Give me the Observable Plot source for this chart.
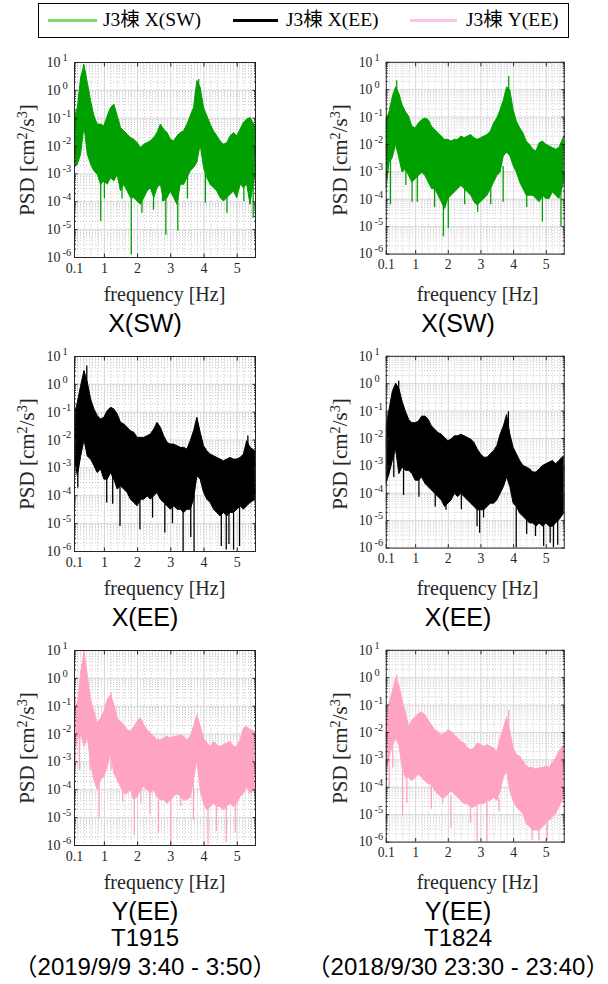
<!DOCTYPE html>
<html><head><meta charset="utf-8">
<script src="https://cdn.jsdelivr.net/npm/d3@7"></script>
<script src="https://cdn.jsdelivr.net/npm/@observablehq/plot@0.6"></script>
<style>
body{margin:0;background:#fff;}
#root{position:relative;width:608px;height:984px;overflow:hidden;background:#fff;}
.abs{position:absolute;white-space:nowrap;transform:translate(-50%,-50%);line-height:1;}
.serif{font-family:"Liberation Serif","DejaVu Serif",serif;color:#262626;}
.sans{font-family:"Liberation Sans",Arial,"Noto Sans CJK JP",sans-serif;color:#000;}
.svgwrap{position:absolute;}
sup{font-size:0.68em;vertical-align:0;position:relative;top:-0.5em;}
</style></head><body><div id="root"></div>
<script>
// ---- data (log10 of PSD [cm^2/s^3]) ----
const freqs = [0.1,0.2,0.3,0.4,0.5,0.6,0.7,0.8,0.9,1.0,
  1.1,1.2,1.3,1.4,1.5,1.6,1.7,1.8,1.9,2.0,
  2.1,2.2,2.3,2.4,2.5,2.6,2.7,2.8,2.9,3.0,
  3.1,3.2,3.3,3.4,3.5,3.6,3.7,3.8,3.9,4.0,
  4.1,4.2,4.3,4.4,4.5,4.6,4.7,4.8,4.9,5.0,
  5.1,5.2,5.3,5.4,5.55];

const legendLabels = ["J3棟 X(SW)", "J3棟 X(EE)", "J3棟 Y(EE)"];
const panelTitles = ["X(SW)", "X(EE)", "Y(EE)"];
const eventNames = ["T1915", "T1824"];
const eventPeriods = ["（2019/9/9 3:40 - 3:50）", "（2018/9/30 23:30 - 23:40）"];

const xTickVals = [0.1, 1, 2, 3, 4, 5];
const xMajorGrid = [1, 2, 3, 4, 5];
const xMinorGrid = [0.2,0.4,0.6,0.8,1.2,1.4,1.6,1.8,2.2,2.4,2.6,2.8,3.2,3.4,3.6,3.8,4.2,4.4,4.6,4.8,5.2,5.4];
const decades = [-6, -5, -4, -3, -2, -1, 0, 1];
const minorMantissas = [2, 3, 4, 5, 6, 7, 8, 9];

// T1915 X(SW)
const t1915_xsw_hi = [-1.0,-0.63,0.45,0.9,0.27,-0.39,-0.93,-1.23,-1.23,-1.29,
  -0.93,-0.63,-0.51,-0.93,-1.35,-1.47,-1.59,-1.71,-1.77,-1.89,
  -2.07,-1.95,-1.89,-1.83,-1.71,-1.53,-1.23,-1.41,-1.53,-1.77,
  -1.83,-1.65,-1.53,-1.47,-1.23,-0.93,-0.63,0.33,0.09,-0.63,
  -0.93,-1.23,-1.47,-1.65,-1.83,-1.95,-1.89,-1.65,-1.53,-1.65,
  -1.41,-1.17,-1.05,-0.99,-1.3];
const t1915_xsw_lo = [-2.79,-2.67,-2.3,-1.3,-2.3,-2.67,-2.91,-3.03,-3.39,-3.27,
  -3.39,-3.15,-3.27,-3.03,-3.63,-3.39,-3.63,-3.87,-3.87,-3.99,
  -4.11,-3.87,-3.63,-3.51,-3.87,-3.51,-3.39,-3.99,-3.87,-3.63,
  -3.87,-4.11,-3.39,-3.39,-3.15,-2.91,-2.79,-2.6,-1.95,-2.79,
  -3.15,-3.39,-3.51,-3.63,-3.87,-3.99,-3.87,-3.75,-3.63,-3.87,
  -3.39,-3.51,-3.39,-4.11,-2.91];
const t1915_xsw_spikes = [[0.37,-1.2,0.92],[0.89,-4.71,-3.0],[1.0,-3.9,-3.0],[1.53,-3.9,-3.0],[1.81,-5.91,-3.5],
  [2.13,-4.41,-3.5],[2.48,-4.3,-3.4],[2.75,-4.0,-3.0],[2.85,-5.2,-3.5],[3.21,-5.05,-3.5],[3.5,-3.9,-3.0],
  [3.84,-1.8,0.39],[4.04,-4.05,-2.5],[4.69,-4.41,-3.5],[5.2,-4.0,-3.3],[5.48,-4.6,-3.0]];

// T1824 X(SW)
const t1824_xsw_hi = [-1.15,-0.81,-0.27,0.09,-0.15,-0.57,-0.81,-0.99,-1.35,-1.41,
  -1.23,-1.11,-1.05,-1.11,-1.35,-1.47,-1.59,-1.71,-1.83,-1.83,
  -1.89,-1.83,-1.83,-1.71,-1.77,-1.71,-1.65,-1.77,-1.83,-1.77,
  -1.71,-1.65,-1.53,-1.23,-1.05,-0.75,-0.39,0.09,-0.03,-0.75,
  -1.17,-1.41,-1.59,-1.89,-2.01,-2.19,-2.25,-1.95,-1.89,-2.01,
  -2.07,-2.13,-2.19,-2.13,-1.71];
const t1824_xsw_lo = [-3.63,-2.67,-2.5,-2.0,-2.5,-3.03,-2.91,-3.15,-3.39,-3.27,
  -3.15,-3.03,-3.15,-3.39,-3.63,-3.63,-3.87,-4.11,-4.35,-3.99,
  -3.87,-3.75,-3.63,-3.51,-3.63,-3.75,-3.87,-4.11,-4.23,-4.11,
  -3.99,-3.87,-3.63,-3.39,-3.15,-3.03,-2.43,-2.3,-2.43,-2.79,
  -3.03,-3.39,-3.63,-3.87,-3.87,-3.87,-3.99,-4.11,-3.87,-3.99,
  -3.99,-3.75,-3.87,-3.99,-3.39];
const t1824_xsw_spikes = [[0.23,-4.2,-2.5],[0.42,-1.0,0.33],[0.7,-3.5,-2.7],[0.89,-4.11,-3.0],[1.05,-4.11,-3.0],
  [1.58,-4.3,-3.5],[1.85,-5.37,-3.8],[2.0,-5.07,-3.8],[2.5,-4.2,-3.4],[2.9,-4.47,-3.8],[3.3,-4.2,-3.4],
  [3.68,-4.11,-2.8],[3.85,-1.5,0.48],[4.4,-4.3,-3.5],[4.88,-4.83,-3.6],[5.45,-5.01,-3.5]];

// T1915 X(EE)
const t1915_xee_hi = [-1.14,-0.66,-0.06,0.48,0.06,-0.54,-0.9,-1.14,-1.26,-1.2,
  -0.96,-0.84,-0.9,-1.08,-1.38,-1.44,-1.56,-1.68,-1.74,-1.92,
  -1.92,-1.92,-1.86,-1.8,-1.62,-1.38,-1.56,-1.86,-2.1,-2.16,
  -2.16,-2.22,-2.28,-2.28,-2.34,-2.04,-1.68,-1.2,-1.74,-2.22,
  -2.4,-2.52,-2.58,-2.64,-2.7,-2.76,-2.7,-2.64,-2.7,-2.7,
  -2.64,-2.52,-2.04,-2.28,-2.4];
const t1915_xee_lo = [-2.58,-3.3,-2.6,-2.0,-2.6,-2.7,-2.94,-3.18,-3.06,-3.42,
  -3.42,-3.18,-3.42,-3.78,-3.66,-3.78,-3.9,-4.14,-4.26,-4.38,
  -4.14,-4.14,-4.02,-4.14,-4.02,-3.9,-4.14,-4.26,-4.38,-4.5,
  -4.38,-4.5,-4.5,-4.62,-4.5,-4.5,-4.14,-3.3,-3.42,-3.9,
  -4.14,-4.26,-4.5,-4.62,-4.74,-4.62,-4.74,-4.62,-4.62,-4.5,
  -4.38,-4.5,-4.38,-4.26,-4.14];
const t1915_xee_spikes = [[0.2,-3.72,-2.5],[0.47,-1.0,0.66],[1.07,-4.26,-3.2],[1.25,-4.3,-3.2],[1.47,-5.1,-3.5],
  [2.07,-5.22,-4.0],[2.45,-4.8,-4.0],[2.82,-5.34,-4.0],[3.05,-5.0,-4.3],[3.37,-6.0,-4.3],[3.6,-5.5,-4.3],
  [3.7,-6.0,-4.0],[4.52,-5.82,-4.4],[4.67,-5.95,-4.4],[4.75,-5.75,-4.5],[4.89,-5.95,-4.4],[5.07,-5.82,-4.4],
  [5.32,-3.0,-1.85]];

// T1824 X(EE)
const t1824_xee_hi = [-1.62,-0.96,-0.3,0.0,-0.18,-0.66,-1.02,-1.32,-1.44,-1.44,
  -1.38,-1.2,-1.2,-1.32,-1.56,-1.68,-1.8,-1.86,-1.98,-2.1,
  -2.04,-1.92,-1.92,-1.86,-1.92,-1.98,-2.04,-2.16,-2.4,-2.58,
  -2.7,-2.7,-2.58,-2.46,-2.28,-1.86,-1.56,-1.14,-1.86,-2.34,
  -2.58,-2.82,-3.0,-3.06,-3.12,-3.24,-3.24,-3.12,-3.0,-2.94,
  -2.88,-2.82,-2.94,-2.82,-2.64];
const t1824_xee_lo = [-3.66,-3.3,-2.82,-2.4,-3.3,-3.06,-3.18,-3.18,-3.3,-3.54,
  -3.54,-3.42,-3.66,-3.78,-3.9,-4.02,-4.14,-4.26,-4.5,-4.38,
  -4.26,-4.02,-4.14,-4.02,-4.14,-4.26,-4.38,-4.5,-4.62,-4.62,
  -4.62,-4.5,-4.38,-4.38,-4.26,-4.02,-3.78,-3.42,-3.78,-4.38,
  -4.5,-4.74,-4.86,-4.98,-5.1,-5.1,-5.22,-5.1,-5.22,-5.1,
  -5.22,-5.22,-5.1,-4.98,-4.74];
const t1824_xee_spikes = [[0.33,-3.42,-2.5],[0.48,-0.5,0.09],[0.63,-4.08,-3.0],[1.1,-4.14,-3.3],[1.6,-4.5,-3.8],
  [1.93,-4.62,-4.3],[2.4,-4.6,-3.9],[2.88,-5.22,-4.3],[2.96,-5.46,-4.4],[3.08,-4.9,-4.4],[3.84,-1.6,-1.02],
  [4.08,-6.0,-4.2],[4.4,-5.5,-4.8],[4.67,-5.58,-5.0],[4.92,-5.94,-5.0],[5.12,-5.82,-5.0],[5.22,-6.0,-5.0],
  [5.35,-5.9,-5.0]];

// T1915 Y(EE)
const t1915_yee_hi = [-0.8,-1.0,0.2,0.95,0.1,-0.78,-1.2,-1.62,-1.44,-1.2,
  -0.78,-0.6,-0.96,-1.44,-1.56,-1.68,-1.86,-1.92,-1.74,-1.56,
  -1.44,-1.68,-1.86,-1.98,-2.1,-2.22,-2.22,-2.16,-2.1,-2.16,
  -2.1,-2.1,-2.04,-2.1,-2.22,-2.1,-1.74,-1.32,-1.74,-2.16,
  -2.34,-2.46,-2.28,-2.4,-2.46,-2.4,-2.34,-2.28,-2.46,-2.46,
  -2.22,-1.8,-1.74,-1.86,-1.92];
const t1915_yee_lo = [-2.82,-2.2,-1.98,-2.46,-2.1,-3.06,-3.66,-4.02,-3.66,-3.54,
  -3.18,-2.7,-3.42,-3.66,-3.9,-4.14,-4.14,-4.02,-4.38,-4.26,
  -4.02,-3.9,-4.02,-4.14,-4.02,-4.26,-4.38,-4.38,-4.5,-4.38,
  -4.26,-4.14,-4.26,-4.38,-4.38,-4.26,-3.66,-2.94,-4.02,-4.5,
  -4.74,-4.62,-4.5,-4.62,-4.62,-4.74,-4.62,-4.5,-4.62,-4.5,
  -4.26,-4.14,-3.9,-4.14,-4.02];
const t1915_yee_spikes = [[0.13,-3.0,-0.68],[0.25,-3.3,-1.5],[0.38,-1.0,1.0],[0.57,-3.3,-2.0],[0.84,-5.02,-3.5],
  [1.2,-3.3,-0.5],[1.55,-4.45,-3.6],[1.9,-5.64,-4.0],[2.1,-4.5,-3.8],[2.37,-4.9,-3.8],[2.63,-5.55,-4.0],
  [3.0,-5.98,-4.2],[3.3,-4.6,-4.0],[3.68,-5.1,-3.6],[4.12,-5.98,-4.4],[4.37,-5.5,-4.2],[4.67,-5.9,-4.4],
  [4.94,-5.55,-4.2]];

// T1824 Y(EE)
const t1824_yee_hi = [-1.42,-0.94,-0.52,-0.04,-0.28,-0.84,-1.26,-1.8,-1.56,-1.44,
  -1.32,-1.26,-1.38,-1.56,-1.74,-1.92,-1.98,-2.1,-2.04,-1.92,
  -1.98,-2.1,-2.22,-2.34,-2.4,-2.58,-2.64,-2.58,-2.4,-2.46,
  -2.52,-2.46,-2.52,-2.58,-2.7,-2.22,-1.86,-1.44,-1.98,-2.58,
  -2.82,-2.88,-3.06,-3.24,-3.3,-3.3,-3.36,-3.3,-3.3,-3.24,
  -3.3,-3.12,-2.94,-2.7,-2.46];
const t1824_yee_lo = [-3.42,-2.94,-2.46,-2.22,-2.46,-3.3,-3.66,-3.66,-3.78,-3.66,
  -3.54,-3.66,-3.78,-3.9,-3.9,-4.14,-4.26,-4.38,-4.38,-4.26,
  -4.14,-4.26,-4.38,-4.5,-4.62,-4.62,-4.74,-4.74,-4.62,-4.62,
  -4.62,-4.5,-4.5,-4.38,-4.5,-4.14,-3.66,-3.42,-4.14,-4.5,
  -4.74,-4.86,-4.98,-5.34,-5.46,-5.58,-5.58,-5.58,-5.46,-5.34,
  -5.22,-5.1,-4.98,-4.74,-4.38];
const t1824_yee_spikes = [[0.19,-4.05,-3.0],[0.3,-3.3,-2.4],[0.42,-1.0,0.09],[0.6,-5.02,-3.4],[0.73,-4.6,-3.6],
  [1.48,-4.8,-3.9],[1.83,-4.6,-4.2],[2.08,-5.5,-4.3],[2.68,-5.3,-4.6],[2.88,-6.0,-4.6],[3.18,-6.0,-4.5],
  [3.55,-4.9,-4.4],[3.85,-3.5,-1.2],[4.56,-5.95,-5.3],[4.77,-5.95,-5.4],[5.03,-5.95,-5.3]];

const colors = ["#00a000", "#000000", "#ffa3c4"];
const legendColors = ["#80d870", "#000000", "#f8c6ea"];

const panels = [
  [{hi: t1915_xsw_hi, lo: t1915_xsw_lo, spikes: t1915_xsw_spikes}, {hi: t1824_xsw_hi, lo: t1824_xsw_lo, spikes: t1824_xsw_spikes}],
  [{hi: t1915_xee_hi, lo: t1915_xee_lo, spikes: t1915_xee_spikes}, {hi: t1824_xee_hi, lo: t1824_xee_lo, spikes: t1824_xee_spikes}],
  [{hi: t1915_yee_hi, lo: t1915_yee_lo, spikes: t1915_yee_spikes}, {hi: t1824_yee_hi, lo: t1824_yee_lo, spikes: t1824_yee_spikes}]
];

// ---- layout ----
const root = document.getElementById("root");
function addDiv(cls, html, x, y, style) {
  const d = document.createElement("div");
  d.className = cls;
  d.innerHTML = html;
  d.style.left = x + "px";
  d.style.top = y + "px";
  if (style) Object.assign(d.style, style);
  root.appendChild(d);
  return d;
}

// legend
const lg = document.createElement("div");
Object.assign(lg.style, {position: "absolute", left: "38px", top: "3px", width: "531px", height: "35px", border: "1px solid #000", boxSizing: "border-box"});
root.appendChild(lg);
const legendLineX = [[48, 97], [233, 278], [410, 457]];
const legendTextX = [103, 286, 466];
legendLabels.forEach((lab, i) => {
  const ln = document.createElement("div");
  Object.assign(ln.style, {position: "absolute", left: legendLineX[i][0] + "px", top: "19px", width: (legendLineX[i][1] - legendLineX[i][0]) + "px", height: "2.5px", background: legendColors[i]});
  root.appendChild(ln);
  const t = document.createElement("div");
  t.textContent = lab;
  Object.assign(t.style, {position: "absolute", left: legendTextX[i] + "px", top: "20px", transform: "translateY(-50%)", fontFamily: '"Liberation Serif","Noto Sans CJK JP",serif', fontSize: "19.5px", color: "#000", whiteSpace: "nowrap", lineHeight: "1"});
  root.appendChild(t);
});

const yMinorGrid = decades.slice(0, -1).flatMap(k => minorMantissas.map(m => m * Math.pow(10, k)));
const yMajorGrid = decades.map(k => Math.pow(10, k));

function drawPanel(series, color, r, c) {
  const frameTop = 62 + 294 * r;
  const svgLeft = 313 * c;
  const rows = freqs.map((f, i) => ({f, lo: Math.pow(10, series.lo[i]), hi: Math.pow(10, series.hi[i])}));
  const spikes = series.spikes.map(([f, a, b]) => ({f, a: Math.pow(10, a), b: Math.pow(10, b)}));
  const ax = {tickFormat: () => "", label: null, stroke: "#262626", strokeWidth: 1};
  const svg = Plot.plot({
    width: 300, height: 250,
    marginLeft: 74, marginRight: 45, marginTop: 10, marginBottom: 45,
    x: {domain: [0.1, 5.55]},
    y: {type: "log", domain: [1e-6, 10]},
    style: {fontFamily: '"Liberation Serif","DejaVu Serif",serif', fontSize: "14px", color: "#262626", background: "transparent", overflow: "visible"},
    marks: [
      Plot.ruleX(xMinorGrid, {stroke: "#c8c8c8", strokeDasharray: "1,2"}),
      Plot.ruleY(yMinorGrid, {stroke: "#c8c8c8", strokeDasharray: "1,2"}),
      Plot.ruleX(xMajorGrid, {stroke: "#d6d6d6"}),
      Plot.ruleY(yMajorGrid, {stroke: "#d6d6d6"}),
      Plot.areaY(rows, {x: "f", y1: "lo", y2: "hi", fill: color, stroke: color, strokeWidth: 1, clip: true}),
      Plot.ruleX(spikes, {x: "f", y1: "a", y2: "b", stroke: color, strokeWidth: 1.3, clip: true}),
      Plot.axisX(xTickVals, {anchor: "bottom", tickSize: -3.5, ...ax}),
      Plot.axisX(xTickVals, {anchor: "top", tickSize: -3.5, ...ax}),
      Plot.axisY(yMajorGrid, {anchor: "left", tickSize: -3.5, ...ax}),
      Plot.axisY(yMajorGrid, {anchor: "right", tickSize: -3.5, ...ax}),
      Plot.axisY(yMinorGrid, {anchor: "left", tickSize: -2, ...ax}),
      Plot.axisY(yMinorGrid, {anchor: "right", tickSize: -2, ...ax}),
      Plot.frame({stroke: "#262626", strokeWidth: 1}),
      Plot.text(xTickVals, {x: d => d, frameAnchor: "bottom", dy: 15, text: d => String(d), fill: "#262626", fontSize: 14}),
      Plot.text(decades, {y: d => Math.pow(10, d), frameAnchor: "left", dx: -14, textAnchor: "end", text: () => "10", fill: "#262626", fontSize: 14}),
      Plot.text(decades, {y: d => Math.pow(10, d), frameAnchor: "left", dx: -12, dy: -5, textAnchor: "start", text: d => String(d), fill: "#262626", fontSize: 10.5})
    ]
  });
  const wrap = document.createElement("div");
  wrap.className = "svgwrap";
  wrap.style.left = svgLeft + "px";
  wrap.style.top = (frameTop - 10) + "px";
  wrap.appendChild(svg);
  root.appendChild(wrap);

  // axis labels and titles
  addDiv("abs serif", "frequency [Hz]", svgLeft + 74 + 90.5, frameTop + 232, {fontSize: "20px"});
  addDiv("abs serif", "PSD [cm<sup>2</sup>/s<sup>3</sup>]", svgLeft + 27, frameTop + 97.5, {fontSize: "21px", transform: "translate(-50%,-50%) rotate(-90deg)"});
  addDiv("abs sans", panelTitles[r], svgLeft + 145, frameTop + 261, {fontSize: "25px"});
  if (r === 2) {
    addDiv("abs sans", eventNames[c], svgLeft + 145, frameTop + 288, {fontSize: "24px"});
    addDiv("abs sans", eventPeriods[c], svgLeft + 145, frameTop + 317, {fontSize: "24px"});
  }
}

panels.forEach((row, r) => row.forEach((s, c) => drawPanel(s, colors[r], r, c)));
</script></body></html>
